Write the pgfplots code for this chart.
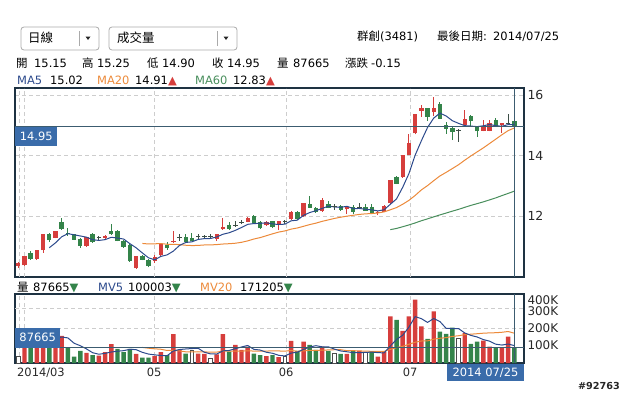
\documentclass[border=0pt]{standalone}
\usepackage{fontspec}
\setmainfont{DejaVu Sans}
\newfontfamily\cjk{Noto Sans CJK TC}
\usepackage{pgfplots}
\pgfplotsset{compat=1.18}
\usepackage{pgfplotstable}

\definecolor{candR}{RGB}{214,62,60}
\definecolor{candG}{RGB}{52,132,74}
\definecolor{dojiC}{RGB}{60,78,70}
\definecolor{maB}{RGB}{44,74,140}
\definecolor{maO}{RGB}{236,138,58}
\definecolor{maG}{RGB}{72,142,92}
\definecolor{frameC}{RGB}{30,50,66}
\definecolor{slateC}{RGB}{60,92,112}
\definecolor{boxB}{RGB}{58,108,170}
\definecolor{gridC}{RGB}{205,205,205}
\definecolor{ddC}{RGB}{170,170,170}
\definecolor{tickC}{RGB}{40,40,40}

\newcommand{\tf}{\fontsize{11.5}{13}\selectfont}
\newcommand{\cf}{\cjk\fontsize{11.5}{13}\selectfont}
\newcommand{\cfb}{\cjk\fontsize{12.5}{14}\selectfont}

% candles: i open high low close
\pgfplotstableread{
i o h l c
0 10.36 10.48 10.28 10.46
1 10.37 10.69 10.35 10.69
3 10.57 10.88 10.55 10.88
4 10.87 11.41 10.78 11.41
6 11.28 11.50 11.26 11.50
11 11.01 11.31 10.98 11.30
14 11.27 11.38 11.22 11.35
19 10.27 10.68 10.25 10.68
22 10.52 10.72 10.45 10.66
23 10.70 11.08 10.68 11.07
25 11.13 11.49 11.12 11.17
32 11.25 11.42 11.17 11.40
33 11.57 11.92 11.55 11.63
37 11.81 11.95 11.79 11.92
40 11.70 11.82 11.68 11.80
42 11.70 11.84 11.53 11.82
44 11.90 12.16 11.88 12.14
46 12.00 12.43 11.98 12.42
49 12.16 12.60 12.14 12.52
53 12.22 12.33 12.07 12.31
58 12.11 12.16 12.03 12.14
59 12.13 12.35 12.12 12.33
60 12.42 13.20 12.40 13.19
62 13.28 14.02 13.26 14.02
63 14.02 14.70 14.00 14.40
64 14.73 15.38 14.70 15.36
65 15.48 15.68 15.28 15.57
67 15.43 15.94 15.30 15.57
72 15.00 15.50 14.98 15.19
75 14.82 15.17 14.80 14.93
76 14.82 15.17 14.80 15.06
78 15.00 15.07 14.75 15.07
}\candRT

\pgfplotstableread{
i o h l c
2 10.77 10.84 10.55 10.57
5 11.40 11.45 11.15 11.20
7 11.81 11.92 11.55 11.57
8 11.45 11.60 11.35 11.40
9 11.40 11.42 11.20 11.22
10 11.25 11.28 10.95 11.01
12 11.40 11.45 11.12 11.15
15 11.51 11.73 11.38 11.40
16 11.51 11.53 11.16 11.17
17 11.18 11.20 10.95 10.99
18 11.05 11.07 10.48 10.51
20 10.68 10.70 10.53 10.55
21 10.55 10.57 10.30 10.36
24 11.04 11.15 10.88 10.93
27 11.32 11.40 11.13 11.15
28 11.28 11.43 11.16 11.18
34 11.70 11.80 11.53 11.57
38 12.00 12.02 11.74 11.76
39 11.80 11.82 11.57 11.59
41 11.82 11.84 11.60 11.62
45 12.14 12.16 11.88 11.91
47 12.40 12.65 12.26 12.28
48 12.27 12.29 12.10 12.12
50 12.40 12.48 12.26 12.28
52 12.33 12.35 12.18 12.20
54 12.29 12.35 12.05 12.14
56 12.31 12.40 12.17 12.18
57 12.31 12.40 12.08 12.09
61 13.28 13.33 13.05 13.07
66 15.56 15.58 15.14 15.28
68 15.70 15.76 15.20 15.22
69 15.00 15.12 14.72 14.89
70 14.92 14.95 14.51 14.79
73 15.29 15.35 14.95 15.15
74 14.93 14.98 14.62 14.80
77 15.18 15.23 14.95 14.98
80 15.15 15.25 14.90 14.95
}\candGT

\pgfplotstableread{
i o h l c
13 11.28 11.35 11.18 11.28
26 11.30 11.40 11.18 11.30
29 11.32 11.40 11.25 11.32
30 11.31 11.38 11.24 11.31
31 11.32 11.39 11.25 11.32
35 11.68 11.82 11.65 11.70
36 11.80 11.87 11.73 11.80
43 11.82 11.88 11.75 11.82
51 12.30 12.40 12.20 12.30
55 12.29 12.42 12.27 12.29
71 14.82 14.88 14.45 14.84
79 15.05 15.37 15.02 15.06
}\candDT

\pgfplotstableread{
i v
5 10.950
6 11.112
7 11.312
8 11.416
9 11.378
10 11.340
11 11.300
12 11.216
13 11.192
14 11.218
15 11.296
16 11.270
17 11.238
18 11.084
19 10.950
20 10.780
21 10.618
22 10.552
23 10.664
24 10.714
25 10.838
26 11.026
27 11.124
28 11.146
29 11.224
30 11.252
31 11.256
32 11.306
33 11.396
34 11.446
35 11.524
36 11.620
37 11.724
38 11.750
39 11.754
40 11.774
41 11.738
42 11.718
43 11.730
44 11.840
45 11.862
46 12.022
47 12.114
48 12.174
49 12.250
50 12.324
51 12.300
52 12.284
53 12.322
54 12.246
55 12.248
56 12.224
57 12.202
58 12.168
59 12.206
60 12.386
61 12.564
62 12.950
63 13.402
64 14.008
65 14.484
66 14.926
67 15.236
68 15.400
69 15.306
70 15.150
71 15.062
72 14.986
73 14.972
74 14.954
75 14.982
76 15.026
77 14.984
78 14.968
79 15.020
80 15.024
}\maFive

\pgfplotstableread{
i v
20 11.092
21 11.075
22 11.080
23 11.089
24 11.065
25 11.064
26 11.054
27 11.033
28 11.022
29 11.027
30 11.042
31 11.043
32 11.055
33 11.073
34 11.084
35 11.099
36 11.130
37 11.177
38 11.239
39 11.285
40 11.347
41 11.410
42 11.468
43 11.506
44 11.566
45 11.603
46 11.659
47 11.716
48 11.763
49 11.823
50 11.871
51 11.920
52 11.960
53 11.994
54 12.023
55 12.052
56 12.071
57 12.080
58 12.099
59 12.136
60 12.205
61 12.278
62 12.388
63 12.517
64 12.678
65 12.861
66 13.004
67 13.168
68 13.323
69 13.442
70 13.567
71 13.694
72 13.844
73 13.986
74 14.119
75 14.251
76 14.395
77 14.539
78 14.686
79 14.822
80 14.910
}\maTwenty

\pgfplotstableread{
i v
60 11.548
61 11.588
62 11.645
63 11.704
64 11.770
65 11.842
66 11.905
67 11.972
68 12.036
69 12.097
70 12.160
71 12.219
72 12.286
73 12.351
74 12.408
75 12.467
76 12.532
77 12.598
78 12.674
79 12.747
80 12.821
}\maSixty

% volumes
\pgfplotstableread{
i v
1 120000
3 110000
4 190000
6 150000
7 156000
11 58000
13 42000
14 62000
15 108000
19 52000
22 39000
23 62000
25 166000
26 75000
29 54000
30 52000
32 50000
33 166000
35 104000
36 75000
37 94000
40 40000
42 34000
44 127000
46 123000
49 94000
53 52000
55 69000
58 36000
59 62000
60 268000
62 185000
63 268000
64 364000
65 210000
67 297000
72 172000
75 129000
76 94000
78 85000
79 152000
}\volR

\pgfplotstableread{
i v
2 110000
5 140000
8 85000
9 37000
10 69000
12 46000
16 81000
17 62000
18 81000
20 31000
21 31000
24 46000
27 54000
34 65000
38 54000
39 46000
41 46000
45 69000
47 104000
48 75000
50 69000
52 52000
54 69000
57 62000
61 248000
66 139000
68 181000
69 168000
70 204000
73 110000
74 123000
77 85000
80 87665
}\volG

\pgfplotstableread{
i v
0 40000
28 75000
31 27000
43 37000
51 56000
56 62000
71 139000
}\volH

\pgfplotstableread{
i v
4 114000
5 134000
6 140000
7 149200
8 144200
9 113600
10 99400
11 81000
12 59000
13 50400
14 55400
15 63200
16 67800
17 71000
18 78800
19 76800
20 61400
21 51400
22 46800
23 43000
24 41800
25 68800
26 77600
27 80600
28 83200
29 84800
30 62000
31 52400
32 51600
33 69800
34 72000
35 82400
36 92000
37 100800
38 78400
39 74600
40 61800
41 56000
42 44000
43 40600
44 56800
45 62600
46 78000
47 92000
48 99600
49 93000
50 93000
51 79600
52 69200
53 64600
54 59600
55 59600
56 60800
57 62800
58 59600
59 58200
60 98000
61 135200
62 159800
63 206200
64 266600
65 255000
66 233200
67 255600
68 238200
69 199000
70 197800
71 197800
72 172800
73 158600
74 149600
75 134600
76 125600
77 108200
78 103200
79 109000
80 100003
}\mvFive

\pgfplotstableread{
i v
20 89500
21 85050
22 81500
23 79100
24 71900
25 73200
26 69450
27 64350
28 63850
29 64700
30 63850
31 62300
32 62500
33 68700
34 68850
35 68650
36 68350
37 69950
38 68600
39 68300
40 68750
41 69500
42 69250
43 68000
44 72050
45 67200
46 69600
47 72100
48 72100
49 74100
50 74950
51 76400
52 76500
53 70800
54 71000
55 69250
56 68600
57 67000
58 66100
59 66900
60 78300
61 88400
62 95950
63 107500
64 119350
65 126400
66 127200
67 136850
68 142150
69 145850
70 152600
71 156750
72 162750
73 165650
74 168350
75 171350
76 172950
77 174100
78 176550
79 181050
80 171205
}\mvTwenty

\begin{document}
\begin{tikzpicture}[x=1bp,y=1bp]
\useasboundingbox (0,0) rectangle (625,392);

% ---------- dropdowns ----------
\draw[ddC, rounded corners=3bp, line width=0.8bp] (21,342) rectangle (99,365);
\draw[ddC, line width=0.8bp] (79,346) -- (79,361);
\fill[black!85] (85.5,355.5) -- (90.5,355.5) -- (88,352) -- cycle;
\node[anchor=base west, inner sep=0] at (28,349.5) {\cfb 日線};
\draw[ddC, rounded corners=3bp, line width=0.8bp] (109,342) rectangle (237,365);
\draw[ddC, line width=0.8bp] (217,346) -- (217,361);
\fill[black!85] (223.5,355.5) -- (228.5,355.5) -- (226,352) -- cycle;
\node[anchor=base west, inner sep=0] at (117,349.5) {\cfb 成交量};

% ---------- title ----------
\node[anchor=base west, inner sep=0] at (357,352) {{\cf 群創}\tf(3481)};
\node[anchor=base west, inner sep=0] at (437,352) {{\cf 最後日期}\tf:};
\node[anchor=base west, inner sep=0] at (493,352) {\tf 2014/07/25};

% ---------- line 2 ----------
\node[anchor=base west, inner sep=0] at (16,324.3) {\cf 開};
\node[anchor=base west, inner sep=0] at (34,324.3) {\tf 15.15};
\node[anchor=base west, inner sep=0] at (82,324.3) {\cf 高};
\node[anchor=base west, inner sep=0] at (97,324.3) {\tf 15.25};
\node[anchor=base west, inner sep=0] at (147,324.3) {\cf 低};
\node[anchor=base west, inner sep=0] at (162,324.3) {\tf 14.90};
\node[anchor=base west, inner sep=0] at (212,324.3) {\cf 收};
\node[anchor=base west, inner sep=0] at (227,324.3) {\tf 14.95};
\node[anchor=base west, inner sep=0] at (277,324.3) {\cf 量};
\node[anchor=base west, inner sep=0] at (293,324.3) {\tf 87665};
\node[anchor=base west, inner sep=0] at (345,324.3) {\cf 漲跌};
\node[anchor=base west, inner sep=0] at (371,324.3) {\tf -0.15};

% ---------- line 3 ----------
\node[anchor=base west, inner sep=0, text=maB] at (17,308) {\tf MA5};
\node[anchor=base west, inner sep=0] at (50,308) {\tf 15.02};
\node[anchor=base west, inner sep=0, text=maO] at (97,308) {\tf MA20};
\node[anchor=base west, inner sep=0] at (135,308) {\tf 14.91\textcolor{candR}{▲}};
\node[anchor=base west, inner sep=0, text=maG] at (195,308) {\tf MA60};
\node[anchor=base west, inner sep=0] at (233,308) {\tf 12.83\textcolor{candR}{▲}};

% ---------- main price axis ----------
\begin{axis}[
  at={(15bp,115bp)}, anchor=south west, scale only axis,
  width=509bp, height=189bp,
  xmin=-0.53, xmax=81.56, ymin=9.983, ymax=16.231,
  axis line style={draw=frameC, line width=1.1bp},
  xtick=\empty,
  ytick={12,14,16}, yticklabels={12,14,16},
  yticklabel pos=right,
  tick style={draw=none},
  ymajorgrids,
  extra x ticks={0.1,0.92,21.9,43.2,63.2}, extra x tick labels={},
  extra x tick style={grid=major, tick style={draw=none}},
  grid style={gridC, dash pattern=on 4bp off 3bp, line width=0.7bp},
  yticklabel style={font=\fontsize{12.5}{14}\selectfont, text=tickC},
  /pgf/number format/assume math mode=true,
]
% wicks
\addplot[draw=none, mark=none, error bars/.cd, y dir=plus, y explicit, error mark=none,
  error bar style={draw=candR, line width=1bp}]
  table[x=i, y=l, y error plus expr=\thisrow{h}-\thisrow{l}] \candRT;
\addplot[draw=none, mark=none, error bars/.cd, y dir=plus, y explicit, error mark=none,
  error bar style={draw=candG, line width=1bp}]
  table[x=i, y=l, y error plus expr=\thisrow{h}-\thisrow{l}] \candGT;
\addplot[draw=none, mark=none, error bars/.cd, y dir=plus, y explicit, error mark=none,
  error bar style={draw=dojiC, line width=1bp}]
  table[x=i, y=l, y error plus expr=\thisrow{h}-\thisrow{l}] \candDT;
% bodies
\addplot[draw=none, mark=none, error bars/.cd, y dir=plus, y explicit, error mark=none,
  error bar style={draw=candR, line width=4.4bp}]
  table[x=i, y=o, y error plus expr=\thisrow{c}-\thisrow{o}] \candRT;
\addplot[draw=none, mark=none, error bars/.cd, y dir=plus, y explicit, error mark=none,
  error bar style={draw=candG, line width=4.4bp}]
  table[x=i, y=c, y error plus expr=\thisrow{o}-\thisrow{c}] \candGT;
\addplot[only marks, mark=-, mark size=2.3bp, mark options={draw=dojiC, line width=1bp}]
  table[x=i, y=c] \candDT;
% moving averages
\addplot[maO, line width=1bp, no marks, line join=round] table[x=i, y=v] \maTwenty;
\addplot[maG, line width=1bp, no marks, line join=round] table[x=i, y=v] \maSixty;
\addplot[maB, line width=1bp, no marks, line join=round] table[x=i, y=v] \maFive;
% current price line and crosshair
\addplot[slateC, line width=1bp, no marks] coordinates {(-0.53,14.95) (81.56,14.95)};
\addplot[slateC, line width=1bp, no marks] coordinates {(80,9.983) (80,16.231)};
\node[anchor=north west, fill=boxB, text=white, inner sep=0, minimum width=42bp, minimum height=19bp,
  font=\fontsize{11.5}{13}\selectfont] at (axis cs:-0.53,14.95) {14.95};
\end{axis}

% ---------- volume header ----------
\node[anchor=base west, inner sep=0] at (17,100.5) {\cf 量};
\node[anchor=base west, inner sep=0] at (33,100.5) {\tf 87665\textcolor{candG}{▼}};
\node[anchor=base west, inner sep=0, text=maB] at (98,100.5) {\tf MV5};
\node[anchor=base west, inner sep=0] at (128,100.5) {\tf 100003\textcolor{candG}{▼}};
\node[anchor=base west, inner sep=0, text=maO] at (200,100.5) {\tf MV20};
\node[anchor=base west, inner sep=0] at (240,100.5) {\tf 171205\textcolor{candG}{▼}};

% ---------- volume axis ----------
\begin{axis}[
  at={(15bp,29bp)}, anchor=south west, scale only axis,
  width=509bp, height=69bp,
  xmin=-0.53, xmax=81.56, ymin=0, ymax=396500,
  axis line style={draw=frameC, line width=1.1bp},
  xtick={21.9,43.2,63.2}, xticklabels={05,06,07},
  xmajorgrids,
  extra x ticks={0.1,0.92}, extra x tick labels={},
  extra x tick style={grid=major, tick style={draw=none}},
  ytick={100000,200000,300000,362000}, yticklabels={100K,200K,300K,400K},
  scaled y ticks=false,
  yticklabel pos=right,
  extra y ticks={200000,316000}, extra y tick labels={},
  extra y tick style={grid=major, tick style={draw=none}},
  tick style={draw=none},
  grid style={gridC, dash pattern=on 4bp off 3bp, line width=0.7bp},
  yticklabel style={font=\fontsize{12}{13}\selectfont, text=tickC},
  xticklabel style={font=\fontsize{11.5}{13}\selectfont, text=tickC, anchor=base, yshift=-13.7bp},
  /pgf/number format/assume math mode=true,
]
\addplot[ybar, bar width=0.72, bar shift=0pt, fill=candR, draw=none] table[x=i, y=v] \volR;
\addplot[ybar, bar width=0.72, bar shift=0pt, fill=candG, draw=none] table[x=i, y=v] \volG;
\addplot[ybar, bar width=0.62, bar shift=0pt, fill=white, draw=black!70, line width=0.8bp] table[x=i, y=v] \volH;
\addplot[maO, line width=1bp, no marks, line join=round] table[x=i, y=v] \mvTwenty;
\addplot[maB, line width=1bp, no marks, line join=round] table[x=i, y=v] \mvFive;
\addplot[slateC, line width=1bp, no marks] coordinates {(-0.53,87665) (81.56,87665)};
\addplot[slateC, line width=1bp, no marks] coordinates {(80,0) (80,396500)};
\node[anchor=south west, fill=boxB, text=white, inner sep=0, minimum width=45bp, minimum height=20bp,
  font=\fontsize{11.5}{13}\selectfont] at (axis cs:-0.53,87665) {87665};
\end{axis}

% ---------- bottom labels ----------
\node[anchor=base west, inner sep=0, text=tickC] at (17,15.3) {\tf 2014/03};
\fill[boxB] (447,11) rectangle (524,28.5);
\node[anchor=base, inner sep=0, text=white] at (485.5,15.3) {\tf 2014 07/25};
\node[anchor=base east, inner sep=0, text=black!85] at (620,3) {\fontsize{9.7}{11}\selectfont\bfseries\#92763};
\end{tikzpicture}
\end{document}
